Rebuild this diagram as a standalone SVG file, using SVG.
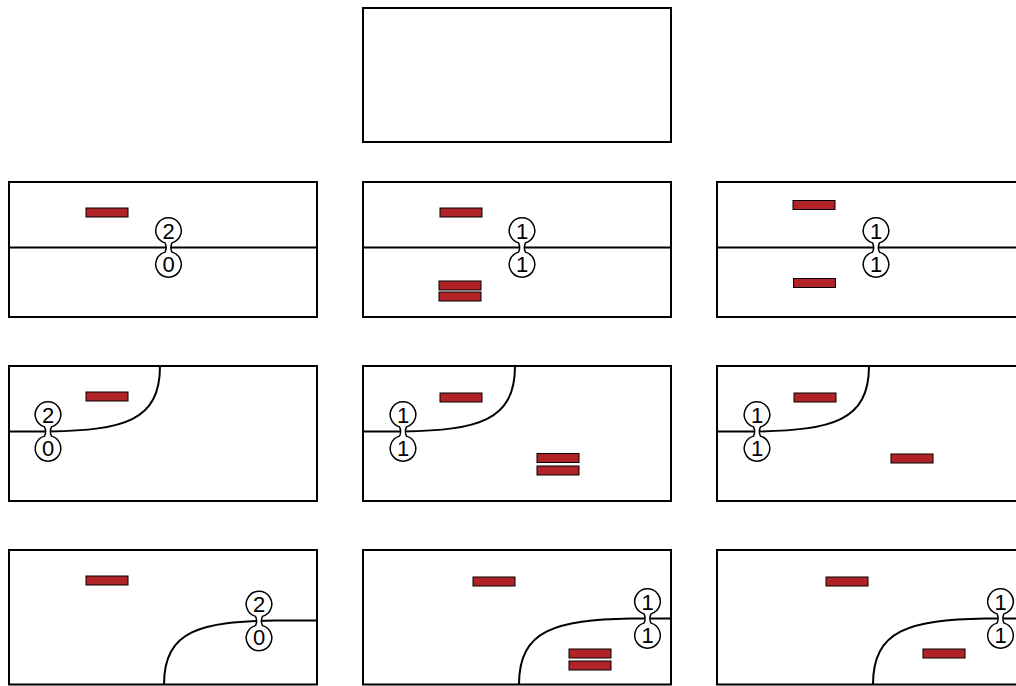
<svg xmlns="http://www.w3.org/2000/svg" xmlns:xlink="http://www.w3.org/1999/xlink" width="1016" height="686" viewBox="0 0 1016 686">
<style>
.panel{fill:#fff;stroke:#000;stroke-width:2}
.conn{fill:none;stroke:#000;stroke-width:2}
.red{fill:#b02428;stroke:#000;stroke-width:1}
.db{fill:#fff;stroke:#000;stroke-width:1.5}
.num{font-family:"Liberation Sans",Arial,sans-serif;font-size:22px;text-anchor:middle;fill:#000}
</style>
<defs>
<path id="dumbbell" class="db" d="M -3.5,-4.6 A 12.8 12.8 0 1 1 3.5,-4.6 C 2.2,-2 2.2,2 3.5,4.6 A 12.8 12.8 0 1 1 -3.5,4.6 C -2.2,2 -2.2,-2 -3.5,-4.6 Z"/>
</defs>
<rect width="1016" height="686" fill="#fff"/>
<g id="panels">
<g id="panel-top"><rect class="panel" x="363" y="8" width="308" height="134"/></g>
<g id="panel-r2c1"><rect class="panel" x="9" y="182" width="308" height="135"/></g>
<g id="panel-r2c2"><rect class="panel" x="363" y="182" width="308" height="135"/></g>
<g id="panel-r2c3"><rect class="panel" x="717" y="182" width="308" height="135"/></g>
<g id="panel-r3c1"><rect class="panel" x="9" y="366" width="308" height="135"/></g>
<g id="panel-r3c2"><rect class="panel" x="363" y="366" width="308" height="135"/></g>
<g id="panel-r3c3"><rect class="panel" x="717" y="366" width="308" height="135"/></g>
<g id="panel-r4c1"><rect class="panel" x="9" y="550" width="308" height="134.5"/></g>
<g id="panel-r4c2"><rect class="panel" x="363" y="550" width="308" height="134.5"/></g>
<g id="panel-r4c3"><rect class="panel" x="717" y="550" width="308" height="134.5"/></g>
</g>
<g id="connectors">
<path class="conn" d="M9,247.5 H317"/>
<path class="conn" d="M363,247.5 H671"/>
<path class="conn" d="M717,247.5 H1025"/>
<path class="conn" d="M160,366 C160,421 124,430 49,431.5 L9,431.5"/>
<path class="conn" d="M515,366 C515,421 478,430 403,431.5 L363,431.5"/>
<path class="conn" d="M869,366 C869,421 832,430 757,431.5 L717,431.5"/>
<path class="conn" d="M164,684.5 C164,630 201,621.5 276,620.5 L317,620.5"/>
<path class="conn" d="M519,684.5 C519,629.5 556,620 631,618.5 L671,618.5"/>
<path class="conn" d="M873,684.5 C873,629.5 910,620 985,618.5 L1025,618.5"/>
</g>
<g id="markers">
<g id="red-r2c1"><rect class="red" x="86" y="208" width="42" height="9"/></g>
<g id="red-r2c2a"><rect class="red" x="440" y="208" width="42" height="9"/></g>
<g id="red-r2c2b"><rect class="red" x="439" y="281" width="42" height="9"/></g>
<g id="red-r2c2c"><rect class="red" x="439" y="292" width="42" height="9"/></g>
<g id="red-r2c3a"><rect class="red" x="793" y="200.5" width="42" height="9"/></g>
<g id="red-r2c3b"><rect class="red" x="793.5" y="278.5" width="42" height="9"/></g>
<g id="red-r3c1"><rect class="red" x="86" y="392" width="42" height="9"/></g>
<g id="red-r3c2a"><rect class="red" x="440" y="393" width="42" height="9"/></g>
<g id="red-r3c2b"><rect class="red" x="537" y="453.5" width="42" height="9"/></g>
<g id="red-r3c2c"><rect class="red" x="537" y="466" width="42" height="9"/></g>
<g id="red-r3c3a"><rect class="red" x="794" y="393" width="42" height="9"/></g>
<g id="red-r3c3b"><rect class="red" x="891" y="454" width="42" height="9"/></g>
<g id="red-r4c1"><rect class="red" x="86" y="576" width="42" height="9"/></g>
<g id="red-r4c2a"><rect class="red" x="473" y="577" width="42" height="9"/></g>
<g id="red-r4c2b"><rect class="red" x="569" y="649" width="42" height="9"/></g>
<g id="red-r4c2c"><rect class="red" x="569" y="661" width="42" height="9"/></g>
<g id="red-r4c3a"><rect class="red" x="826" y="577" width="42" height="9"/></g>
<g id="red-r4c3b"><rect class="red" x="923" y="649" width="42" height="9"/></g>
</g>
<g id="pair-r2c1" transform="translate(168.5,247.5)"><use xlink:href="#dumbbell" href="#dumbbell"/><text class="num" x="0" y="-8.6">2</text><text class="num" x="0" y="24.4">0</text></g>
<g id="pair-r2c2" transform="translate(522,247.5)"><use xlink:href="#dumbbell" href="#dumbbell"/><text class="num" x="0" y="-8.6">1</text><text class="num" x="0" y="24.4">1</text></g>
<g id="pair-r2c3" transform="translate(876,247.5)"><use xlink:href="#dumbbell" href="#dumbbell"/><text class="num" x="0" y="-8.6">1</text><text class="num" x="0" y="24.4">1</text></g>
<g id="pair-r3c1" transform="translate(48,431.5)"><use xlink:href="#dumbbell" href="#dumbbell"/><text class="num" x="0" y="-8.6">2</text><text class="num" x="0" y="24.4">0</text></g>
<g id="pair-r3c2" transform="translate(403,431.5)"><use xlink:href="#dumbbell" href="#dumbbell"/><text class="num" x="0" y="-8.6">1</text><text class="num" x="0" y="24.4">1</text></g>
<g id="pair-r3c3" transform="translate(757,431.5)"><use xlink:href="#dumbbell" href="#dumbbell"/><text class="num" x="0" y="-8.6">1</text><text class="num" x="0" y="24.4">1</text></g>
<g id="pair-r4c1" transform="translate(259,621)"><use xlink:href="#dumbbell" href="#dumbbell"/><text class="num" x="0" y="-8.6">2</text><text class="num" x="0" y="24.4">0</text></g>
<g id="pair-r4c2" transform="translate(647.5,618.5)"><use xlink:href="#dumbbell" href="#dumbbell"/><text class="num" x="0" y="-8.6">1</text><text class="num" x="0" y="24.4">1</text></g>
<g id="pair-r4c3" transform="translate(1000.5,618.5)"><use xlink:href="#dumbbell" href="#dumbbell"/><text class="num" x="0" y="-8.6">1</text><text class="num" x="0" y="24.4">1</text></g>
</svg>
